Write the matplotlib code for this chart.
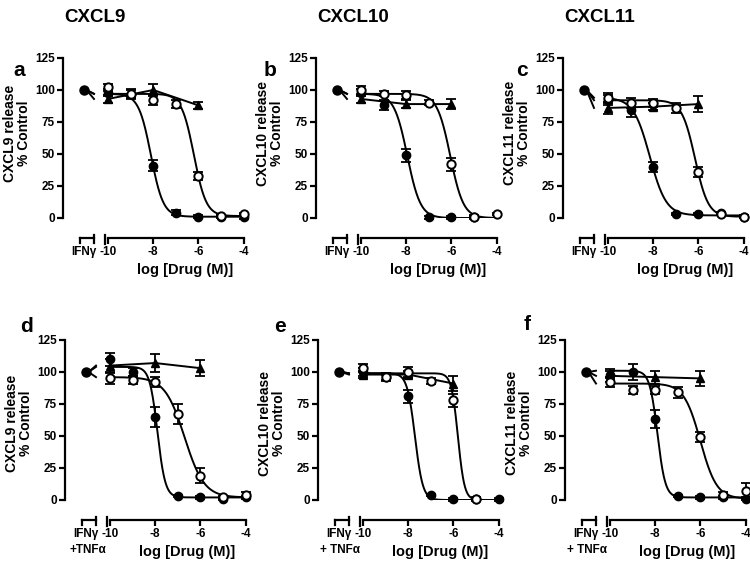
import numpy as np
import matplotlib
matplotlib.use('Agg')
import matplotlib.pyplot as plt

plt.rcParams['font.family'] = ['Liberation Sans', 'DejaVu Sans']
plt.rcParams['font.weight'] = 'bold'
plt.rcParams['axes.unicode_minus'] = False

nan = np.nan

CHEMOKINES = ['CXCL9', 'CXCL10', 'CXCL11']
PANELS = ['a', 'b', 'c', 'd', 'e', 'f']
STIM_LABELS = ['IFNγ'] * 6
STIM_EXTRA = ['', '', '', '+TNFα', '+ TNFα', '+ TNFα']

DOSES = [-10, -9, -8, -7, -6, -5, -4]
TRI_DOSES = [-10, -8, -6]
CONTROL_DOSE = -11.05
CONTROL_VALUE = 100

# filled circles
FILLED_MEAN = [
    [98, 97, 41, 4, 1, 1, 0.5],
    [98, 88, 49, 0.5, 0.5, 0.5, nan],
    [92, 84, 40, 3, 3, 4, 1],
    [110, 100, 65, 3, 2, 1, 2],
    [100, 96, 81, 4, 0.5, 0.5, 0.5],
    [98, 100, 63, 3, 2, 2, 1],
]
FILLED_SEM = [
    [3, 3, 4, 2, 1, 1, 1],
    [3, 4, 5, 1, 1, 1, 0],
    [4, 5, 4, 1, 1, 1, 1],
    [5, 3, 8, 1, 1, 1, 1],
    [3, 3, 5, 1, 1, 1, 1],
    [3, 6, 7, 1, 1, 1, 1],
]
# open circles
OPEN_MEAN = [
    [102, 97, 92, 89, 33, 1.5, 3],
    [100, 97, 96, 90, 42, 1, 3],
    [94, 90, 90, 86, 36, 3, 1],
    [95, 94, 92, 67, 19, 2, 4],
    [103, 96, 100, 93, 78, 1, nan],
    [92, 86, 86, 84, 49, 4, 7],
]
OPEN_SEM = [
    [3, 4, 4, 3, 3, 1, 1],
    [3, 2, 3, 2, 5, 1, 1],
    [4, 4, 3, 4, 4, 1, 1],
    [4, 3, 4, 8, 6, 1, 2],
    [3, 2, 4, 2, 5, 1, 0],
    [4, 3, 3, 4, 4, 2, 6],
]
# filled triangles
TRI_MEAN = [
    [93, 100, 88],
    [93, 89, 89],
    [86, 87, 89],
    [105, 107, 103],
    [98, 98, 91],
    [97, 96, 95],
]
TRI_SEM = [
    [3, 5, 3],
    [3, 3, 4],
    [5, 3, 6],
    [5, 7, 6],
    [3, 3, 6],
    [5, 5, 6],
]

# fitted curves: top, bottom, logIC50, hill slope
FILLED_FIT = [
    (97, 1, -8.1, 1.6),
    (97, 0, -7.95, 1.5),
    (94, 2, -8.15, 1.2),
    (104, 2, -7.9, 2.5),
    (99, 0, -7.7, 2.5),
    (101, 2, -7.9, 2.5),
]
OPEN_FIT = [
    (97, 1.5, -6.2, 1.6),
    (97, 0, -6.05, 1.5),
    (92, 1, -6.15, 1.5),
    (96, 2, -6.7, 1.0),
    (99, 0, -5.8, 3.0),
    (91, 1, -6.0, 1.2),
]


def logistic(x, top, bottom, log_ic50, hill):
    return bottom + (top - bottom) / (1 + 10 ** (hill * (x - log_ic50)))


W, H = 750, 562
fig = plt.figure(figsize=(7.5, 5.62), dpi=100)

SPINE_X = [63, 316, 563, 65, 318, 565]
ZERO_Y = [218, 218, 218, 500, 500, 500]
LETTER_XY = [(13, 70), (264, 70), (516, 70), (20, 326), (274, 326), (524, 324)]
YLABEL_Y = [133, 133, 133, 423, 423, 423]
PX_DECADE = 22.6
PX_SPINE_TO_10 = 45
PX_125 = 160
X_AXIS_DROP = 20  # pixels between y=0 and the x axis

xlo = -10 - PX_SPINE_TO_10 / PX_DECADE
xhi = -3.8
axis_y = -X_AXIS_DROP / PX_125

curve_x = np.linspace(-10, -4, 400)

for i, letter in enumerate(PANELS):
    left = SPINE_X[i] / W
    bottom = 1 - ZERO_Y[i] / H
    width = (xhi - xlo) * PX_DECADE / W
    height = PX_125 / H
    ax = fig.add_axes([left, bottom, width, height])
    ax.set_xlim(xlo, xhi)
    ax.set_ylim(0, 125)

    for s in ['top', 'right']:
        ax.spines[s].set_visible(False)
    ax.spines['left'].set_linewidth(1.6)
    ax.spines['bottom'].set_linewidth(1.6)
    ax.spines['left'].set_bounds(0, 125)
    ax.spines['bottom'].set_position(('outward', X_AXIS_DROP * 0.72))
    ax.spines['bottom'].set_bounds(-10, -4)
    ax.set_yticks([0, 25, 50, 75, 100, 125])
    ax.set_xticks([-10, -8, -6, -4])
    ax.tick_params(axis='both', width=1.6, length=4, labelsize=8.5, pad=2)

    xt = ax.get_xaxis_transform()
    # axis break and control segment
    ax.plot([-10.13, -10.13], [axis_y + 0.02, axis_y - 0.035], color='k', lw=1.6,
            transform=xt, clip_on=False)
    ax.plot([-11.22, -10.62], [axis_y, axis_y], color='k', lw=1.6, transform=xt, clip_on=False)
    ax.plot([-11.22, -11.22], [axis_y, axis_y - 0.03], color='k', lw=1.6, transform=xt, clip_on=False)
    ax.plot([-10.62, -10.62], [axis_y + 0.02, axis_y - 0.03], color='k', lw=1.6,
            transform=xt, clip_on=False)
    ax.text(-10.5, axis_y - 0.05, STIM_LABELS[i], transform=xt, ha='right', va='top',
            fontsize=8.5, fontweight='bold')
    if STIM_EXTRA[i]:
        ax.text(-11.0, axis_y - 0.15, STIM_EXTRA[i], transform=xt, ha='center', va='top',
                fontsize=8.5, fontweight='bold')

    # fitted curves and connecting line
    ax.plot(curve_x, logistic(curve_x, *FILLED_FIT[i]), color='k', lw=1.4, zorder=2)
    ax.plot(curve_x, logistic(curve_x, *OPEN_FIT[i]), color='k', lw=1.4, zorder=2)
    ax.plot(TRI_DOSES, TRI_MEAN[i], color='k', lw=1.4, zorder=2)

    # control stubs
    for top in [FILLED_FIT[i][0], OPEN_FIT[i][0], TRI_MEAN[i][0]]:
        ax.plot([-10.95, -10.62], [CONTROL_VALUE, top], color='k', lw=1.4, zorder=2)

    ax.errorbar(DOSES, FILLED_MEAN[i], yerr=FILLED_SEM[i], fmt='none', ecolor='k',
                elinewidth=1.3, capsize=3.5, capthick=1.3, zorder=3, clip_on=False)
    ax.errorbar(DOSES, OPEN_MEAN[i], yerr=OPEN_SEM[i], fmt='none', ecolor='k',
                elinewidth=1.3, capsize=3.5, capthick=1.3, zorder=3, clip_on=False)
    ax.errorbar(TRI_DOSES, TRI_MEAN[i], yerr=TRI_SEM[i], fmt='none', ecolor='k',
                elinewidth=1.3, capsize=3.5, capthick=1.3, zorder=3, clip_on=False)

    ax.plot(TRI_DOSES, TRI_MEAN[i], '^', color='k', ms=6, zorder=4, clip_on=False)
    ax.plot(DOSES, FILLED_MEAN[i], 'o', color='k', ms=6, zorder=4, clip_on=False)
    ax.plot(DOSES, OPEN_MEAN[i], 'o', mfc='white', mec='k', mew=1.4, ms=6, zorder=5,
            clip_on=False)
    ax.plot([CONTROL_DOSE], [CONTROL_VALUE], 'o', color='k', ms=6.5, zorder=5, clip_on=False)

    # labels
    col = i % 3
    fig.text((SPINE_X[i] - 46) / W, 1 - YLABEL_Y[i] / H,
             CHEMOKINES[col] + ' release\n% Control', rotation=90, ha='center', va='center',
             fontsize=10, fontweight='bold', linespacing=1.05)
    fig.text((SPINE_X[i] + 122) / W, 1 - (ZERO_Y[i] + X_AXIS_DROP + 32) / H,
             'log [Drug (M)]', ha='center', va='center', fontsize=10.5, fontweight='bold')
    lx, ly = LETTER_XY[i]
    fig.text(lx / W, 1 - ly / H, letter, ha='left', va='center',
             fontsize=15, fontweight='bold')

for col, name in enumerate(CHEMOKINES):
    fig.text((SPINE_X[col] + 1) / W, 1 - 18 / H, name, ha='left', va='center',
             fontsize=13.5, fontweight='bold')

fig.savefig('out.png', dpi=100)
